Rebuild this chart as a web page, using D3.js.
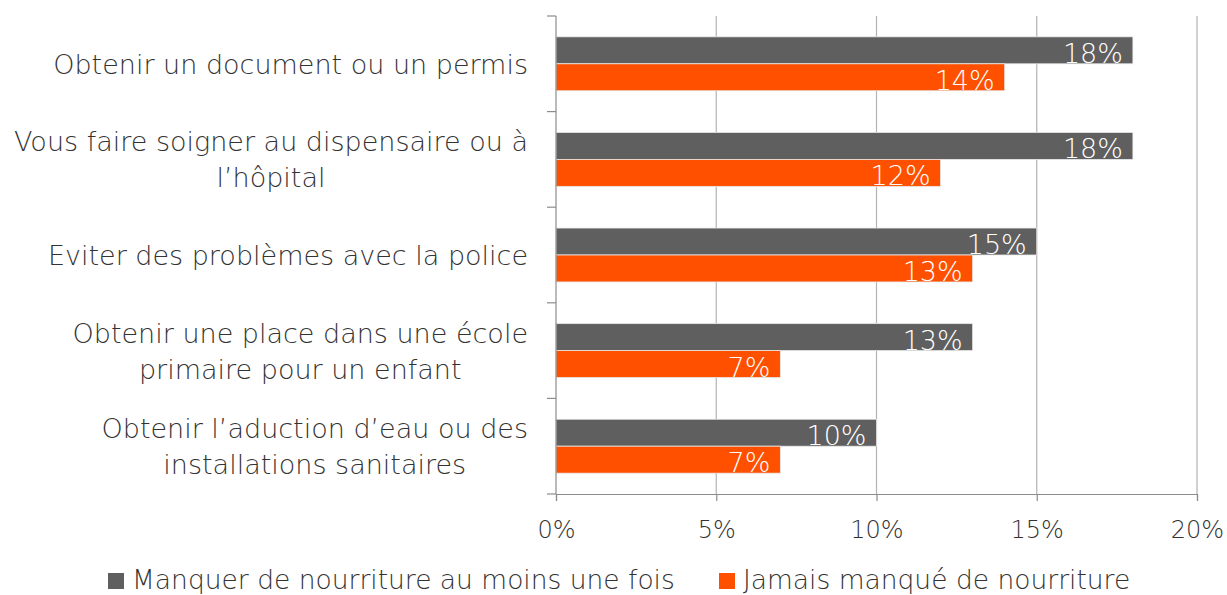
<!DOCTYPE html>
<html>
<head>
<meta charset="utf-8">
<script src="https://cdn.jsdelivr.net/npm/d3@7"></script>
<style>
  html, body { margin: 0; padding: 0; background: #fff; }
  svg { display: block; }
  text { font-family: "DejaVu Sans", sans-serif; fill: #333333; }
</style>
</head>
<body>
<svg id="chart" width="1227" height="595"></svg>
<script>
const categories = [
  "Obtenir un document ou un permis",
  "Vous faire soigner au dispensaire ou à|l’hôpital",
  "Eviter des problèmes avec la police",
  "Obtenir une place dans une école|primaire pour un enfant",
  "Obtenir l’aduction d’eau ou des|installations sanitaires"
];
const seriesNames = ["Manquer de nourriture au moins une fois", "Jamais manqué de nourriture"];
const manquer = [18, 18, 15, 13, 10];
const jamais = [14, 12, 13, 7, 7];
const xTicks = [0, 5, 10, 15, 20];
const colors = ["#5f5f5f", "#ff5000"];

(function () {
const svg = d3.select("#chart");
const pL = 556, pR = 1197, pT = 16, pB = 494;

const x = d3.scaleLinear().domain([0, 20]).range([pL, pR]);
const y = d3.scaleBand().domain(categories).range([pT, pB]).paddingInner(0).paddingOuter(0);
const bw = y.bandwidth();
const gap = bw * 0.218;
const y1 = d3.scaleBand().domain(seriesNames).range([gap, bw - gap]);

// gridlines
svg.append("g").selectAll("line").data(xTicks.slice(1)).join("line")
  .attr("x1", d => x(d)).attr("x2", d => x(d))
  .attr("y1", pT).attr("y2", pB)
  .attr("stroke", "#b3b3b3").attr("stroke-width", 1.2);

// bars
const data = [];
categories.forEach((c, i) => {
  data.push({cat: c, s: seriesNames[0], v: manquer[i], col: colors[0]});
  data.push({cat: c, s: seriesNames[1], v: jamais[i], col: colors[1]});
});
svg.append("g").selectAll("rect").data(data).join("rect")
  .attr("x", x(0))
  .attr("y", d => y(d.cat) + y1(d.s))
  .attr("width", d => x(d.v) - x(0))
  .attr("height", y1.bandwidth())
  .attr("fill", d => d.col)
  .attr("stroke", "#e8e8e8").attr("stroke-width", 0.8);

// data labels
svg.append("g").selectAll("text").data(data).join("text")
  .attr("x", d => x(d.v) - 10)
  .attr("y", d => y(d.cat) + y1(d.s) + y1.bandwidth() - 1)
  .attr("text-anchor", "end")
  .style("fill", "#ffffff")
  .style("font-size", "27px")
  .style("font-weight", "200")
  .text(d => d.v + "%");

// left axis
svg.append("line").attr("x1", pL).attr("x2", pL).attr("y1", pT).attr("y2", pB)
  .attr("stroke", "#8c8c8c").attr("stroke-width", 1.2);
const bounds = categories.map(c => y(c)).concat([pB]);
svg.append("g").selectAll("line").data(bounds).join("line")
  .attr("x1", pL - 9).attr("x2", pL)
  .attr("y1", d => d).attr("y2", d => d)
  .attr("stroke", "#8c8c8c").attr("stroke-width", 1.2);

// bottom axis
const xAxis = d3.axisBottom(x).tickValues(xTicks).tickFormat(d => d + "%").tickSize(7).tickPadding(20);
const gx = svg.append("g").attr("transform", `translate(0,${pB})`).call(xAxis);
gx.select(".domain").attr("stroke", "#8c8c8c").attr("stroke-width", 1.2);
gx.selectAll(".tick line").attr("stroke", "#8c8c8c").attr("stroke-width", 1.2);
gx.selectAll("text").style("font-size", "24px").style("font-weight", "200")
  .style("font-family", "'DejaVu Sans', sans-serif").attr("fill", "#333333");

// category labels
const catG = svg.append("g");
categories.forEach(c => {
  const lines = c.split("|");
  const cy = y(c) + bw / 2;
  const lh = 36;
  const g = catG.append("g");
  const ts = lines.map((ln, j) => g.append("text")
    .attr("y", cy + (j - (lines.length - 1) / 2) * lh + 10)
    .attr("text-anchor", "middle")
    .style("font-size", "27px").style("font-weight", "200")
    .text(ln));
  const maxW = d3.max(ts, t => t.node().getComputedTextLength());
  ts.forEach(t => t.attr("x", 528 - maxW / 2));
});

// legend
const legX = [108, 719];
seriesNames.forEach((s, i) => {
  svg.append("rect").attr("x", legX[i]).attr("y", 573).attr("width", 16).attr("height", 16).attr("fill", colors[i]);
  svg.append("text").attr("x", legX[i] + 24).attr("y", 589)
    .style("font-size", "26.5px").style("font-weight", "200").text(s);
});
})();
</script>
</body>
</html>
